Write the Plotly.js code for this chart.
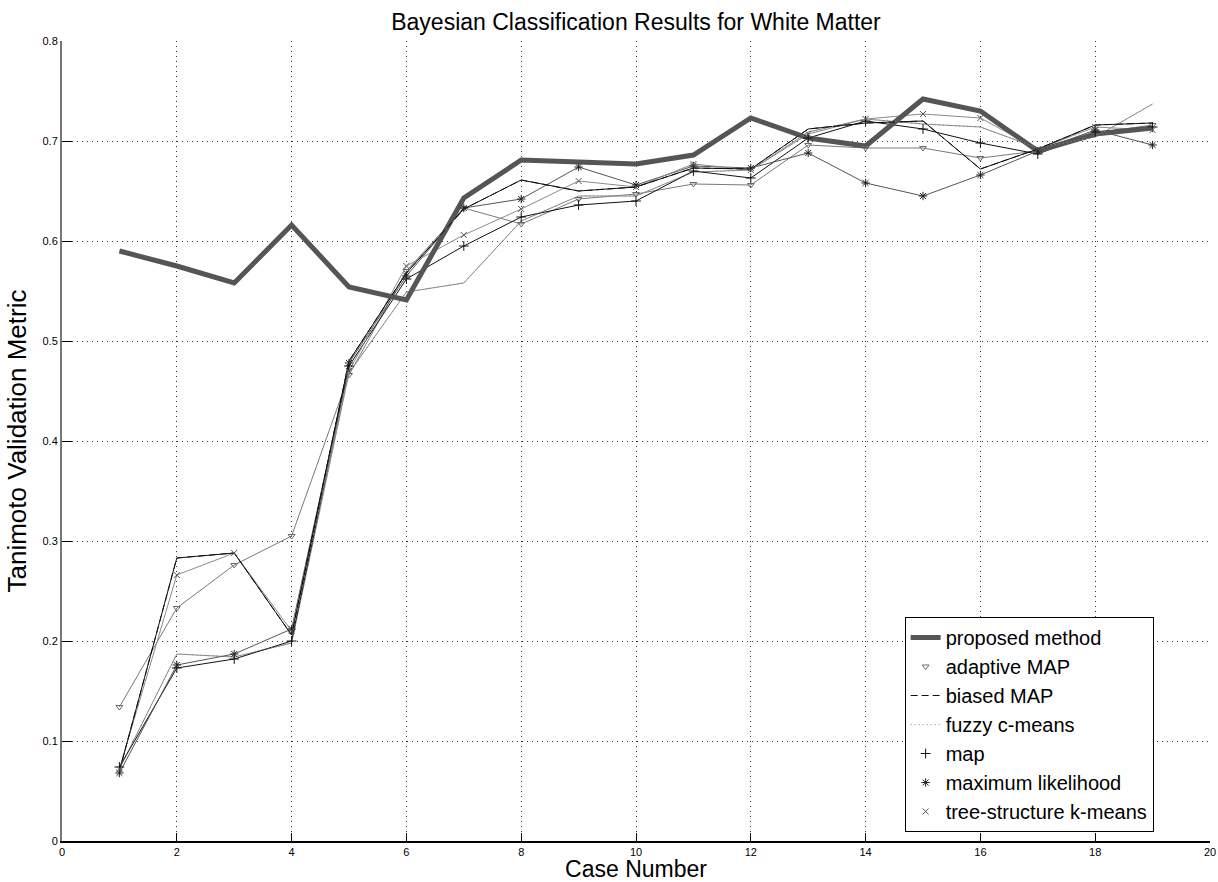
<!DOCTYPE html>
<html>
<head>
<meta charset="utf-8">
<script src="https://cdn.plot.ly/plotly-3.0.1.min.js"></script>
<style>
html,body{margin:0;padding:0;background:#fff;}
#chart{width:1218px;height:882px;}
</style>
</head>
<body>
<div id="chart"></div>
<script>
// Case numbers
var cases = [1,2,3,4,5,6,7,8,9,10,11,12,13,14,15,16,17,18,19];

// Series values (Tanimoto metric)
var proposedMethod   = [0.590,0.575,0.558,0.616,0.554,0.541,0.643,0.681,0.679,0.677,0.686,0.723,0.703,0.695,0.742,0.730,0.690,0.707,0.713];
var adaptiveMAP      = [0.134,0.233,0.276,0.305,0.466,0.570,0.633,0.617,0.642,0.647,0.657,0.656,0.696,0.693,0.693,0.683,0.690,0.708,0.716];
var biasedMAP        = [0.070,0.283,0.288,0.206,0.480,0.568,0.632,0.661,0.650,0.654,0.673,0.672,0.712,0.718,0.720,0.672,0.692,0.716,0.718];
var fuzzyCMeans      = [0.072,0.187,0.184,0.198,0.468,0.549,0.558,0.620,0.645,0.645,0.669,0.671,0.709,0.722,0.717,0.714,0.693,0.704,0.737];
var mapValues        = [0.074,0.173,0.182,0.200,0.475,0.562,0.595,0.624,0.636,0.640,0.670,0.663,0.703,0.720,0.712,0.698,0.687,0.709,0.714];
var maxLikelihood    = [0.068,0.176,0.187,0.212,0.478,0.565,0.633,0.642,0.674,0.656,0.675,0.673,0.688,0.658,0.645,0.666,0.690,0.711,0.696];
var treeKMeans       = [0.072,0.266,0.288,0.210,0.470,0.575,0.606,0.632,0.660,0.654,0.677,0.671,0.707,0.722,0.727,0.723,0.692,0.714,0.711];

var seriesNames = ["proposed method","adaptive MAP","biased MAP","fuzzy c-means","map","maximum likelihood","tree-structure k-means"];

var xTickVals = [0,2,4,6,8,10,12,14,16,18,20];
var yTickVals = [0,0.1,0.2,0.3,0.4,0.5,0.6,0.7,0.8];
var yTickText = ["0","0.1","0.2","0.3","0.4","0.5","0.6","0.7","0.8"];

function thinLine(y, color){
  return {x:cases, y:y, type:'scatter', mode:'lines', showlegend:false, hoverinfo:'skip',
          line:{color:color, width:1}};
}
function markerTrace(y, name, symbol, color, size){
  return {x:cases, y:y, type:'scatter', mode:'markers', name:name,
          marker:{symbol:symbol, size:size, color:color, line:{color:color, width:1}}};
}

var traces = [
  // lines (not in legend)
  thinLine(adaptiveMAP,'#7a7a7a'),
  thinLine(fuzzyCMeans,'#8a8a8a'),
  thinLine(mapValues,'#111111'),
  thinLine(maxLikelihood,'#555555'),
  thinLine(treeKMeans,'#8a8a8a'),
  thinLine(biasedMAP,'#111111'),
  // legend entries in order
  {x:cases, y:proposedMethod, type:'scatter', mode:'lines', name:seriesNames[0],
   line:{color:'#555555', width:5}},
  markerTrace(adaptiveMAP, seriesNames[1], 'triangle-down-open', '#6a6a6a', 6),
  {x:cases, y:biasedMAP, type:'scatter', mode:'lines', name:seriesNames[2],
   line:{color:'#111111', width:1, dash:'7px,4px'}},
  {x:cases, y:fuzzyCMeans, type:'scatter', mode:'lines', name:seriesNames[3],
   line:{color:'#8a8a8a', width:1, dash:'1px,3px'}},
  markerTrace(mapValues, seriesNames[4], 'cross-thin-open', '#111111', 7),
  markerTrace(maxLikelihood, seriesNames[5], 'asterisk-open', '#222222', 7),
  markerTrace(treeKMeans, seriesNames[6], 'x-thin-open', '#555555', 6)
];

var tickFont = {family:'"Liberation Sans Narrow", "Liberation Sans", Arial, sans-serif', size:11, color:'#000'};

var layout = {
  width:1218, height:882,
  paper_bgcolor:'#fff', plot_bgcolor:'#fff',
  margin:{l:62, r:8, t:41, b:41, pad:0},
  title:{text:'Bayesian Classification Results for White Matter',
         font:{family:'"Liberation Sans", Arial, sans-serif', size:23, color:'#000'},
         x:0.5, xref:'paper', y:0.975, yanchor:'middle'},
  xaxis:{range:[0,20], tickvals:xTickVals, ticktext:xTickVals.map(String),
         ticks:'inside', ticklen:8, tickcolor:'#000', tickwidth:1,
         showline:true, linecolor:'#000', linewidth:2, zeroline:false,
         showgrid:true, gridcolor:'#333', griddash:'1px,4px', gridwidth:1,
         tickfont:tickFont,
         title:{text:'Case Number', font:{family:'"Liberation Sans", Arial, sans-serif', size:23, color:'#000'}, standoff:4}},
  yaxis:{range:[0,0.8], tickvals:yTickVals, ticktext:yTickText,
         ticks:'inside', ticklen:10, tickcolor:'#000', tickwidth:1,
         showline:true, linecolor:'#777', linewidth:2, zeroline:false,
         showgrid:true, gridcolor:'#333', griddash:'1px,4px', gridwidth:1,
         tickfont:tickFont,
         title:{text:'Tanimoto Validation Metric', font:{family:'"Liberation Sans", Arial, sans-serif', size:26, color:'#000'}, standoff:8}},
  legend:{x:0.734, y:0.28, xanchor:'left', yanchor:'top',
          bgcolor:'#fff', bordercolor:'#000', borderwidth:1,
          font:{family:'"Liberation Sans", Arial, sans-serif', size:20, color:'#000'},
          tracegroupgap:0, itemwidth:30},
  showlegend:true
};

Plotly.newPlot('chart', traces, layout, {displayModeBar:false, staticPlot:true});
</script>
</body>
</html>
